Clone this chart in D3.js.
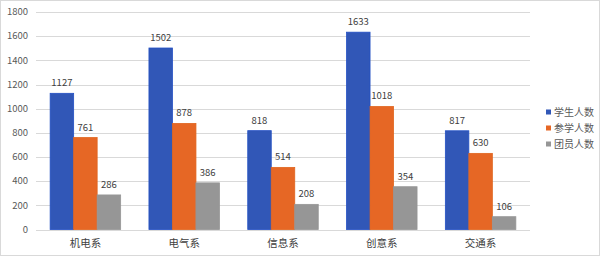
<!DOCTYPE html>
<html>
<head>
<meta charset="utf-8">
<script src="https://cdn.jsdelivr.net/npm/d3@7"></script>
<style>
  body { margin: 0; background: #fff; }
  svg { display: block; font-family: "Noto Sans CJK SC", "Microsoft YaHei", sans-serif; }
</style>
</head>
<body>
<div id="chart"></div>
<script>
const categories = ['机电系', '电气系', '信息系', '创意系', '交通系'];
const seriesNames = ['学生人数', '参学人数', '团员人数'];
const students = [1127, 1502, 818, 1633, 817];
const participants = [761, 878, 514, 1018, 630];
const members = [286, 386, 208, 354, 106];
const yTicks = [0, 200, 400, 600, 800, 1000, 1200, 1400, 1600, 1800];

const colors = ['#3157b7', '#e66725', '#969696'];
const strokes = ['#2350c4', '#e0651f', '#969696'];

const width = 600, height = 256;
const plot = { left: 36, right: 530, top: 12, bottom: 229.5 };

const svg = d3.select('#chart').append('svg')
  .attr('width', width)
  .attr('height', height);

svg.append('rect')
  .attr('x', 0.5).attr('y', 0.5)
  .attr('width', width - 1).attr('height', height - 1)
  .attr('fill', '#fff').attr('stroke', '#d9d9d9');

const x0 = d3.scaleBand().domain(categories).range([plot.left, plot.right]).paddingInner(0).paddingOuter(0);
const barW = 23.5;
const x1 = d3.scaleBand().domain(seriesNames).range([0, barW * 3]).padding(0);
const y = d3.scaleLinear().domain([0, 1800]).range([plot.bottom, plot.top]);

// gridlines
svg.append('g').selectAll('line')
  .data(yTicks)
  .enter().append('line')
  .attr('x1', plot.left).attr('x2', plot.right)
  .attr('y1', d => Math.round(y(d)) + 0.5)
  .attr('y2', d => Math.round(y(d)) + 0.5)
  .attr('stroke', '#d9d9d9').attr('stroke-width', 1.2);

// y labels
svg.append('g').selectAll('text')
  .data(yTicks)
  .enter().append('text')
  .attr('x', 28)
  .attr('y', d => y(d))
  .attr('dy', '0.35em')
  .attr('text-anchor', 'end')
  .attr('font-size', 9.5)
  .attr('fill', '#595959')
  .text(d => d);

const series = [students, participants, members];
const rows = [];
series.forEach((vals, si) => {
  vals.forEach((v, ci) => rows.push({ s: si, c: categories[ci], v: v }));
});

const offset = (x0.bandwidth() - barW * 3) / 2;

svg.append('g').selectAll('rect')
  .data(rows)
  .enter().append('rect')
  .attr('x', d => x0(d.c) + offset + x1(seriesNames[d.s]))
  .attr('y', d => y(d.v))
  .attr('width', x1.bandwidth())
  .attr('height', d => y(0) - y(d.v))
  .attr('fill', d => colors[d.s])
  .attr('stroke', d => strokes[d.s])
  .attr('stroke-width', 0.8);

svg.append('g').selectAll('text')
  .data(rows)
  .enter().append('text')
  .attr('x', d => x0(d.c) + offset + x1(seriesNames[d.s]) + x1.bandwidth() / 2)
  .attr('y', d => y(d.v) - 7)
  .attr('text-anchor', 'middle')
  .attr('font-size', 9.5)
  .attr('fill', '#404040')
  .text(d => d.v);

// category labels
svg.append('g').selectAll('text')
  .data(categories)
  .enter().append('text')
  .attr('x', d => x0(d) + x0.bandwidth() / 2)
  .attr('y', 243)
  .attr('dy', '0.35em')
  .attr('text-anchor', 'middle')
  .attr('font-size', 10.5)
  .attr('fill', '#404040')
  .text(d => d);

// legend
const legend = svg.append('g').selectAll('g')
  .data(seriesNames)
  .enter().append('g')
  .attr('transform', (d, i) => `translate(546, ${112 + i * 16})`);
legend.append('rect')
  .attr('x', 0).attr('y', -2.5)
  .attr('width', 5).attr('height', 5)
  .attr('fill', (d, i) => colors[i]);
legend.append('text')
  .attr('x', 8).attr('y', 0)
  .attr('dy', '0.35em')
  .attr('font-size', 10)
  .attr('fill', '#595959')
  .text(d => d);
</script>
</body>
</html>
